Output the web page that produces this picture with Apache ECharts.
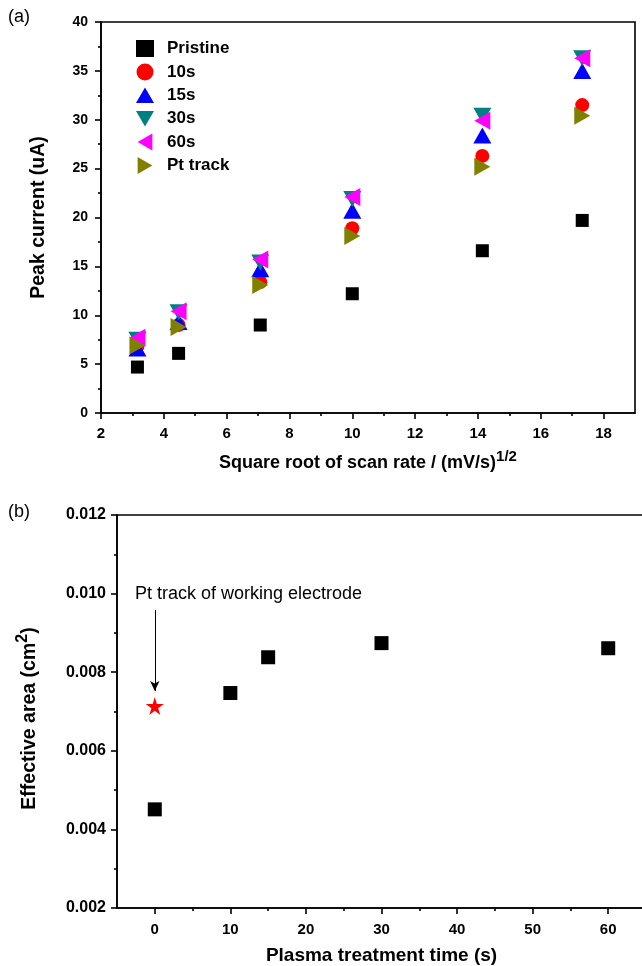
<!DOCTYPE html>
<html>
<head>
<meta charset="utf-8">
<script src="https://cdn.jsdelivr.net/npm/echarts@6/dist/echarts.min.js"></script>
<style>
html,body{margin:0;padding:0;background:#fff;}
#c{width:642px;height:966px;}
</style>
</head>
<body>
<div id="c"></div>
<script>
// ---- Panel (a) data ----
const sqrtScanRate = [3.16, 4.47, 7.07, 10, 14.14, 17.32];
const pristine = [4.7, 6.1, 9.0, 12.2, 16.6, 19.7];
const s10 = [6.8, 9.0, 13.4, 18.9, 26.3, 31.5];
const s15 = [6.6, 9.3, 14.7, 20.7, 28.4, 35.0];
const s30 = [7.5, 10.3, 15.4, 21.9, 30.4, 36.3];
const s60 = [7.7, 10.4, 15.7, 22.1, 29.9, 36.3];
const ptTrack = [6.9, 8.8, 13.1, 18.1, 25.2, 30.4];
const seriesNamesA = ['Pristine', '10s', '15s', '30s', '60s', 'Pt track'];
const topXTicks = [2, 4, 6, 8, 10, 12, 14, 16, 18];
const topXMinor = [3, 5, 7, 9, 11, 13, 15, 17];

// ---- Panel (b) data ----
const plasmaTime = [0, 10, 15, 30, 60];
const effectiveArea = [0.00451, 0.00747, 0.00838, 0.00874, 0.00861];
const ptTrackTime = [0];
const ptTrackArea = [0.00714];
const botXTicks = [0, 10, 20, 30, 40, 50, 60];
const botXMinor = [5, 15, 25, 35, 45, 55];
const annotationText = 'Pt track of working electrode';
const annotationPos = [12.4, 0.0100];
const arrowFrom = [0, 0.00958];
const arrowTo = [0, 0.00752];

const FONT = '"Liberation Sans", Arial, sans-serif';
const pair = (xs, ys) => xs.map((x, i) => [x, ys[i]]);

const triUp = 'path://M1,0L2,1.732L0,1.732Z';
const triDown = 'path://M0,0L2,0L1,1.732Z';
const triLeft = 'path://M1.732,0L1.732,2L0,1Z';
const triRight = 'path://M0,0L0,2L1.732,1Z';
const star = 'path://M50,0L61,35L98,35L68,57L79,91L50,70L21,91L32,57L2,35L39,35Z';

const axisLineStyle = {color: '#000', width: 1.6};
const lab = (size) => ({color: '#000', fontFamily: FONT, fontWeight: 'bold', fontSize: size});
const nameStyle = (size) => ({color: '#000', fontFamily: FONT, fontWeight: 'bold', fontSize: size});
const supRich = (size, lh) => ({sup: {fontFamily: FONT, fontWeight: 'bold', fontSize: size, color: '#000', verticalAlign: 'top', lineHeight: lh}});

const chart = echarts.init(document.getElementById('c'), null, {renderer: 'canvas'});

const mkA = (name, ys, symbol, size, color) => ({
  name: name, type: 'scatter', xAxisIndex: 0, yAxisIndex: 0,
  data: pair(sqrtScanRate, ys), symbol: symbol, symbolSize: size,
  itemStyle: {color: color, opacity: 1}, emphasis: {disabled: true}
});

chart.setOption({
  animation: false,
  backgroundColor: '#fff',
  textStyle: {fontFamily: FONT},
  graphic: [
    {type: 'text', left: 8, top: 8, style: {text: '(a)', font: '18px ' + FONT, fill: '#000'}},
    {type: 'text', left: 8, top: 503, style: {text: '(b)', font: '18px ' + FONT, fill: '#000'}}
  ],
  grid: [
    {left: 101, right: 7, top: 22, bottom: 553, outerBoundsMode: 'none', containLabel: false,
     show: true, borderColor: '#000', borderWidth: 1.6, backgroundColor: 'transparent'},
    {left: 117, width: 529, top: 515, bottom: 58, outerBoundsMode: 'none', containLabel: false,
     show: true, borderColor: '#000', borderWidth: 1.6, backgroundColor: 'transparent'}
  ],
  legend: {
    data: seriesNamesA,
    orient: 'vertical', left: 131, top: 35,
    itemWidth: 18, itemHeight: 17, itemGap: 6.4,
    textStyle: {color: '#000', fontFamily: FONT, fontWeight: 'bold', fontSize: 17, padding: [0, 0, 0, 8]},
    selectedMode: false
  },
  xAxis: [
    {gridIndex: 0, type: 'value', min: 2, max: 19, position: 'bottom',
     name: 'Square root of scan rate / (mV/s){sup|1/2}', nameLocation: 'middle', nameGap: 36,
     nameTextStyle: Object.assign(nameStyle(18), {rich: supRich(15, 28)}),
     axisLine: {onZero: false, lineStyle: axisLineStyle},
     axisTick: {customValues: topXTicks, length: 6, lineStyle: axisLineStyle},
     axisLabel: Object.assign({customValues: topXTicks, margin: 13}, lab(15)),
     splitLine: {show: false}},
    {gridIndex: 0, type: 'value', min: 2, max: 19, position: 'bottom',
     axisLine: {show: false, onZero: false}, axisLabel: {show: false},
     axisTick: {customValues: topXMinor, length: 3, lineStyle: axisLineStyle},
     splitLine: {show: false}},
    {gridIndex: 1, type: 'value', min: -5, max: 65, position: 'bottom',
     name: 'Plasma treatment time (s)', nameLocation: 'middle', nameGap: 38,
     nameTextStyle: nameStyle(19),
     axisLine: {onZero: false, lineStyle: axisLineStyle},
     axisTick: {customValues: botXTicks, length: 6, lineStyle: axisLineStyle},
     axisLabel: Object.assign({customValues: botXTicks, margin: 14}, lab(15)),
     splitLine: {show: false}},
    {gridIndex: 1, type: 'value', min: -5, max: 65, position: 'bottom',
     axisLine: {show: false, onZero: false}, axisLabel: {show: false},
     axisTick: {customValues: botXMinor, length: 3, lineStyle: axisLineStyle},
     splitLine: {show: false}}
  ],
  yAxis: [
    {gridIndex: 0, type: 'value', min: 0, max: 40, interval: 5, position: 'left',
     name: 'Peak current (uA)', nameLocation: 'middle', nameGap: 52,
     nameTextStyle: nameStyle(19.5),
     axisLine: {show: true, onZero: false, lineStyle: axisLineStyle},
     axisTick: {show: true, length: 6, lineStyle: axisLineStyle},
     minorTick: {show: true, splitNumber: 2, length: 3, lineStyle: axisLineStyle},
     axisLabel: Object.assign({margin: 13}, lab(14)),
     splitLine: {show: false}},
    {gridIndex: 1, type: 'value', min: 0.002, max: 0.012, interval: 0.002, position: 'left',
     name: 'Effective area (cm{sup|2})', nameLocation: 'middle', nameGap: 72,
     nameTextStyle: Object.assign(nameStyle(19.5), {rich: supRich(16, 30), padding: [0, 14, 0, 0]}),
     axisLine: {show: true, onZero: false, lineStyle: axisLineStyle},
     axisTick: {show: true, length: 6, lineStyle: axisLineStyle},
     minorTick: {show: true, splitNumber: 2, length: 3, lineStyle: axisLineStyle},
     axisLabel: Object.assign({margin: 11, formatter: v => v.toFixed(3)}, lab(16)),
     splitLine: {show: false}}
  ],
  series: [
    mkA('Pristine', pristine, 'rect', 13, '#000000'),
    mkA('10s', s10, 'circle', 14, '#ff0000'),
    mkA('15s', s15, triUp, [18, 16], '#0000ff'),
    mkA('30s', s30, triDown, [18, 16], '#008080'),
    mkA('60s', s60, triLeft, [16, 18], '#ff00ff'),
    mkA('Pt track', ptTrack, triRight, [16, 18], '#808000'),
    {name: 'Effective area', type: 'scatter', xAxisIndex: 2, yAxisIndex: 1,
     data: pair(plasmaTime, effectiveArea), symbol: 'rect', symbolSize: 14,
     itemStyle: {color: '#000', opacity: 1}, emphasis: {disabled: true},
     markLine: {silent: true, symbol: ['none', 'arrow'], symbolSize: [7, 10],
       lineStyle: {color: '#000', width: 1, type: 'solid', opacity: 1}, label: {show: false},
       data: [[{coord: arrowFrom}, {coord: arrowTo}]]}},
    {name: 'Pt track area', type: 'scatter', xAxisIndex: 2, yAxisIndex: 1,
     data: pair(ptTrackTime, ptTrackArea), symbol: star, symbolSize: 18,
     itemStyle: {color: '#ff0000', opacity: 1}, emphasis: {disabled: true}},
    {name: 'annotation', type: 'scatter', xAxisIndex: 2, yAxisIndex: 1,
     data: [annotationPos], symbolSize: 0, silent: true,
     itemStyle: {opacity: 1},
     label: {show: true, position: 'inside', formatter: annotationText,
       color: '#000', fontFamily: FONT, fontSize: 18, opacity: 1}}
  ]
});
</script>
</body>
</html>
